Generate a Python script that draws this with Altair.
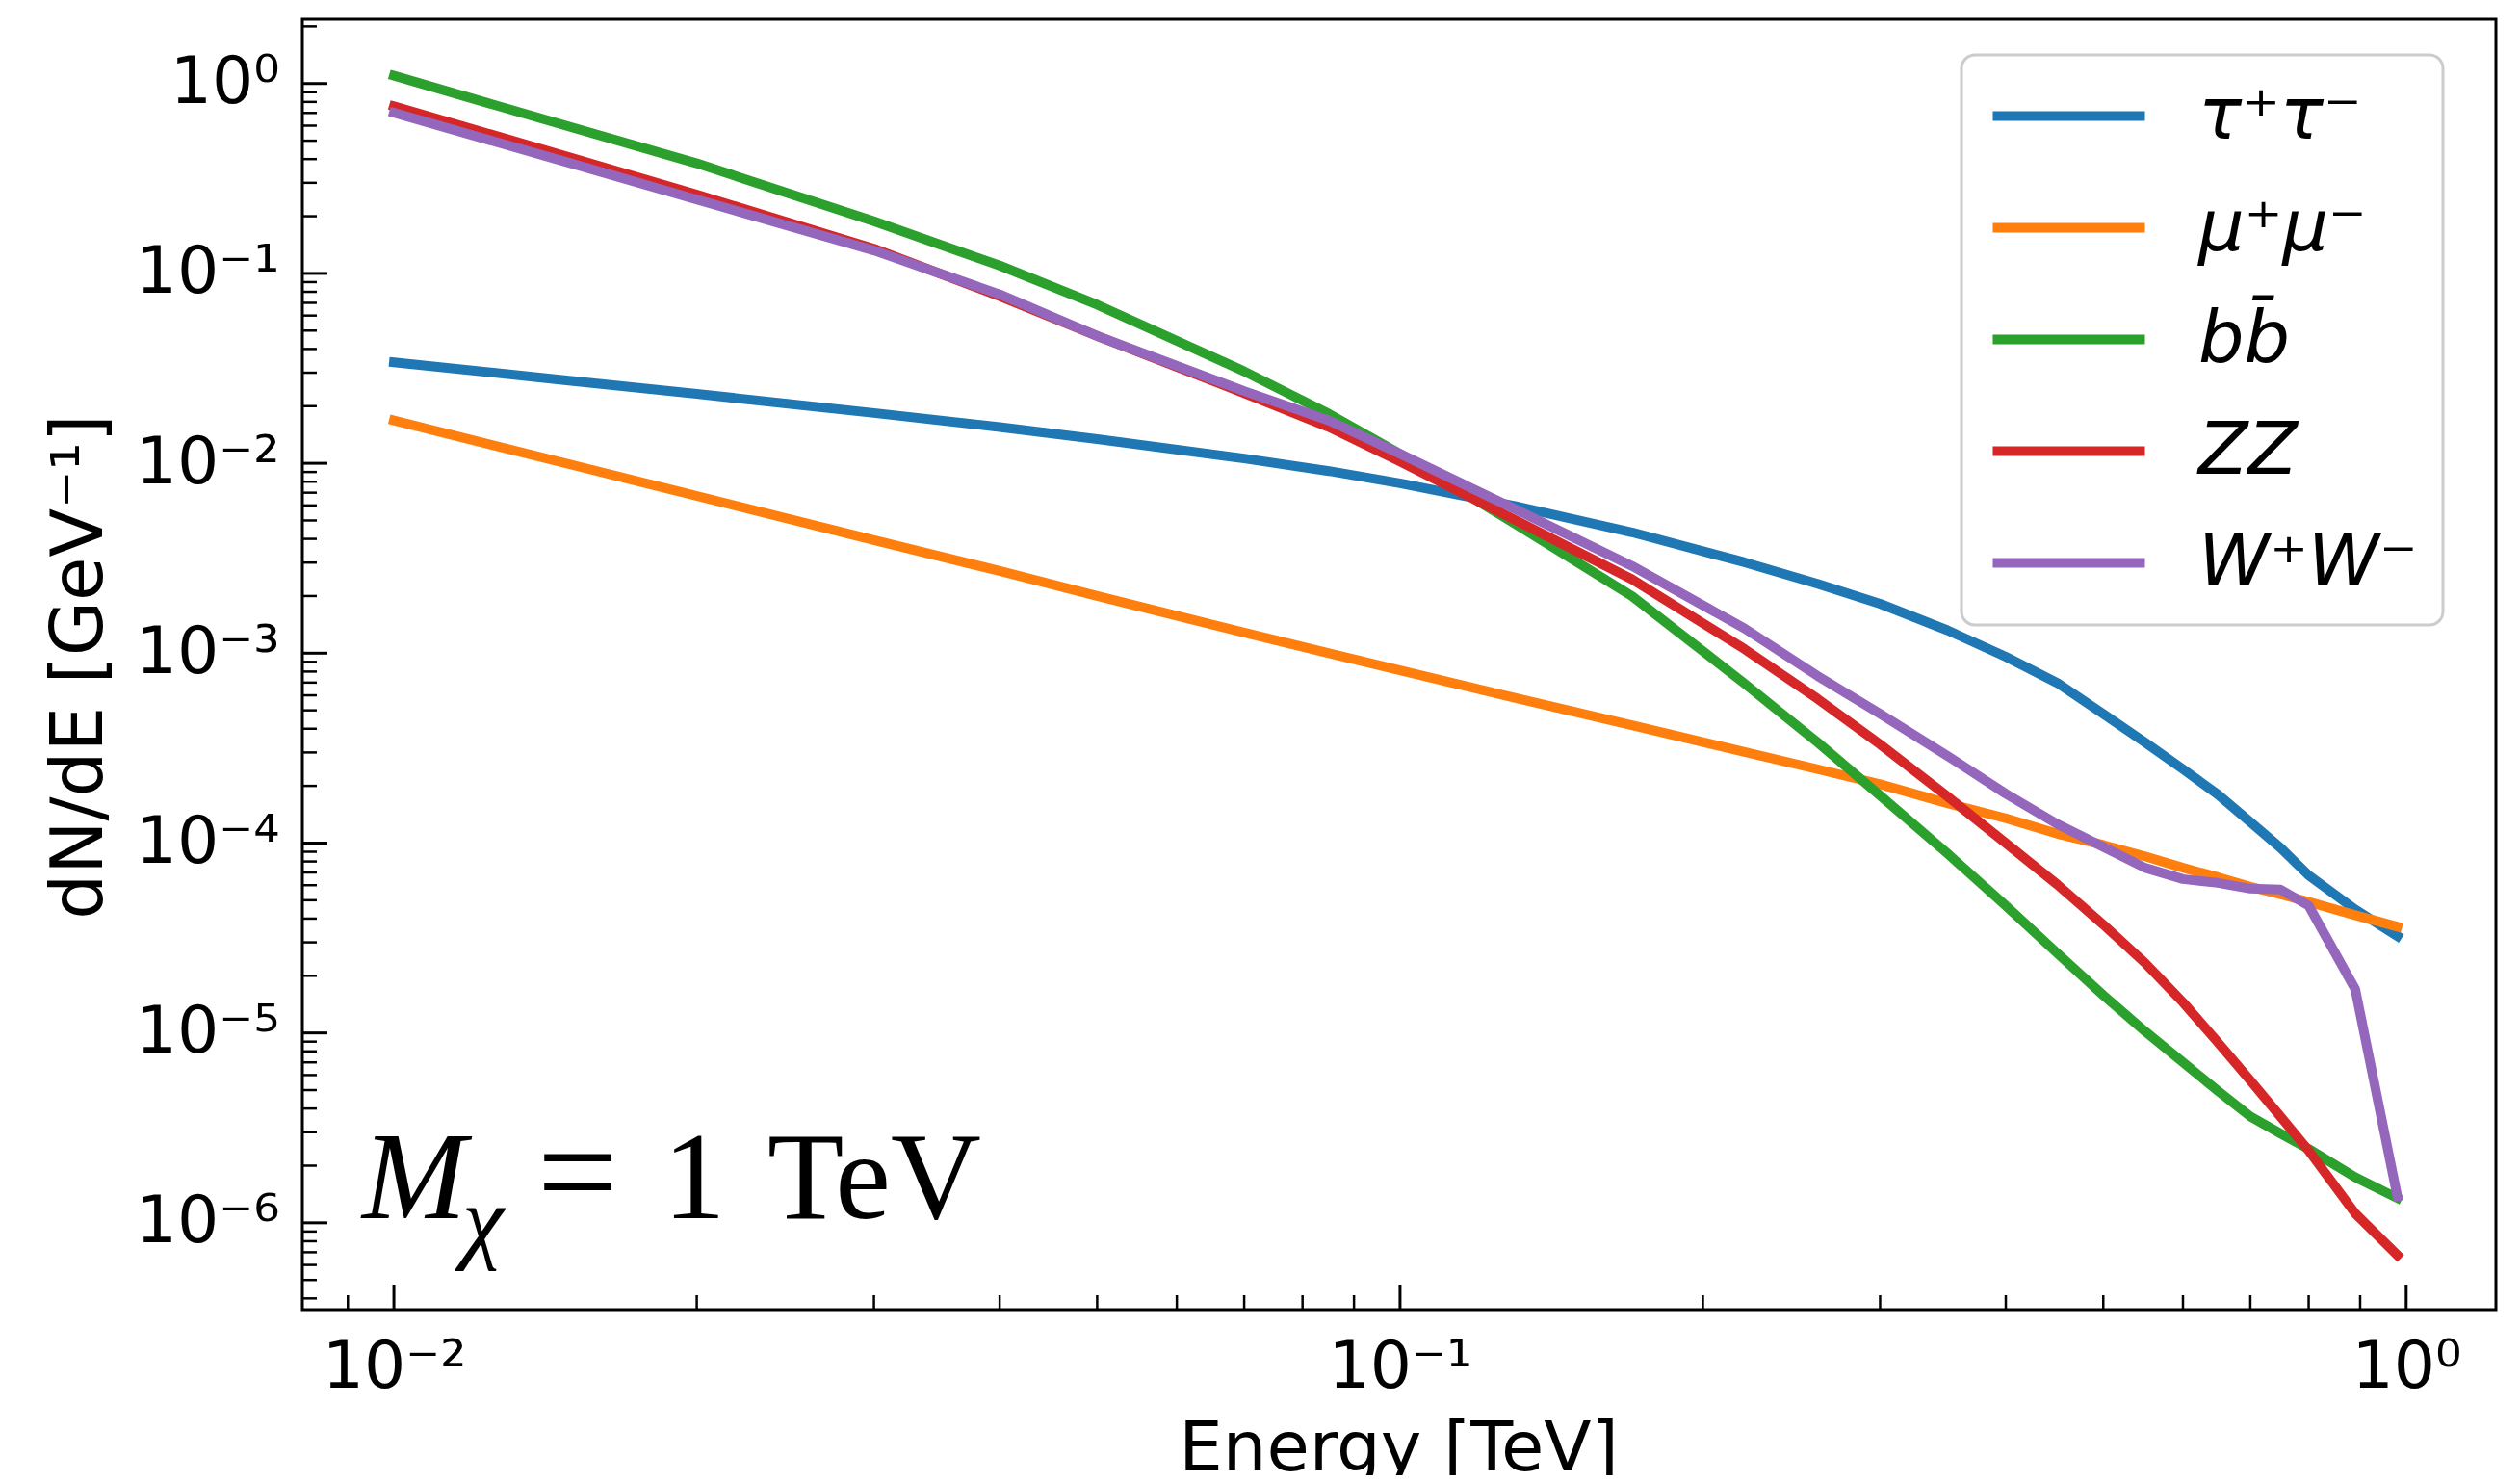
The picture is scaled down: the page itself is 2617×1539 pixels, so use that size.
import altair as alt
import pandas as pd

# ---------------- data ----------------
SERIES = ["τ⁺τ⁻", "μ⁺μ⁻", "bb̄", "ZZ", "W⁺W⁻"]
COLORS = ["#1f77b4", "#ff7f0e", "#2ca02c", "#d62728", "#9467bd"]

ENERGY = [0.01, 0.015, 0.02, 0.03, 0.04, 0.05, 0.07, 0.085, 0.1, 0.13, 0.17,
          0.22, 0.26, 0.3, 0.35, 0.4, 0.45, 0.5, 0.55, 0.6, 0.65, 0.7, 0.75,
          0.8, 0.89, 0.98]

TAU = [3.40e-2, 2.72e-2, 2.32e-2, 1.84e-2, 1.55e-2, 1.34e-2, 1.06e-2, 9.10e-3,
       7.85e-3, 5.96e-3, 4.33e-3, 3.01e-3, 2.32e-3, 1.82e-3, 1.32e-3, 9.57e-4,
       6.97e-4, 4.79e-4, 3.39e-4, 2.45e-4, 1.80e-4, 1.29e-4, 9.44e-5, 6.76e-5,
       4.47e-5, 3.24e-5]
MU = [1.68e-2, 9.84e-3, 6.73e-3, 3.94e-3, 2.71e-3, 2.00e-3, 1.285e-3, 1.00e-3,
      8.13e-4, 5.82e-4, 4.17e-4, 3.02e-4, 2.45e-4, 2.04e-4, 1.62e-4, 1.35e-4,
      1.12e-4, 9.77e-5, 8.51e-5, 7.41e-5, 6.61e-5, 5.89e-5, 5.37e-5, 4.90e-5,
      4.17e-5, 3.63e-5]
BB = [1.10, 0.589, 0.380, 0.188, 0.110, 0.0684, 0.0305, 0.0182, 0.01122,
      4.82e-3, 2.00e-3, 6.92e-4, 3.39e-4, 1.78e-4, 8.81e-5, 4.68e-5, 2.63e-5,
      1.58e-5, 1.02e-5, 7.00e-6, 4.95e-6, 3.63e-6, 2.95e-6, 2.45e-6, 1.74e-6,
      1.35e-6]
ZZ = [0.759, 0.407, 0.260, 0.135, 0.0759, 0.0468, 0.0234, 0.0155, 0.01023,
      5.04e-3, 2.45e-3, 1.05e-3, 5.75e-4, 3.31e-4, 1.76e-4, 1.00e-4, 6.05e-5,
      3.72e-5, 2.34e-5, 1.45e-5, 8.91e-6, 5.62e-6, 3.63e-6, 2.40e-6, 1.12e-6,
      6.76e-7]
WW = [0.701, 0.380, 0.245, 0.132, 0.0776, 0.0468, 0.0240, 0.0168, 0.01122,
      5.75e-3, 2.88e-3, 1.35e-3, 7.59e-4, 4.79e-4, 2.88e-4, 1.82e-4, 1.26e-4,
      9.55e-5, 7.41e-5, 6.46e-5, 6.17e-5, 5.75e-5, 5.69e-5, 4.68e-5, 1.70e-5,
      1.38e-6]

X_MAJOR = [0.01, 0.1, 1.0]
Y_MAJOR = [1e-6, 1e-5, 1e-4, 1e-3, 1e-2, 1e-1, 1.0]
X_MINOR = [0.009, 0.02, 0.03, 0.04, 0.05, 0.06, 0.07, 0.08, 0.09,
           0.2, 0.3, 0.4, 0.5, 0.6, 0.7, 0.8, 0.9]
Y_MINOR = [k * 10.0 ** d for d in range(-7, 1) for k in range(2, 10)
           if 3.49e-7 <= k * 10.0 ** d <= 2.17]

X_DOMAIN = [0.00811, 1.228]
Y_DOMAIN = [3.49e-7, 2.18]

VALUES = [TAU, MU, BB, ZZ, WW]
rows = []
for name, vals in zip(SERIES, VALUES):
    for e, v in zip(ENERGY, vals):
        rows.append({"series": name, "energy": e, "dnde": v})
df = pd.DataFrame(rows)

# ---------------- layout ----------------
W, H = 2278, 1340
FONT = "DejaVu Sans"
SERIF = "Liberation Serif"
LW = 10

EXP = "round(log(datum.value)/LN10)"
SUP = ("'10' + (" + EXP + " < 0 ? '⁻' : '') + substring('⁰¹²³⁴⁵⁶⁷⁸⁹', abs(" + EXP +
       "), abs(" + EXP + ") + 1)")

xscale = alt.Scale(type="log", domain=X_DOMAIN, nice=False)
yscale = alt.Scale(type="log", domain=Y_DOMAIN, nice=False)

x_axis = alt.Axis(values=X_MAJOR, labelExpr=SUP, title="Energy [TeV]",
                  ticks=False, domain=False, grid=False,
                  labelFont=FONT, labelFontSize=68, labelColor="black",
                  labelPadding=26, labelBaseline="top", labelFlush=False,
                  labelOverlap=False,
                  titleFont=FONT, titleFontSize=72, titleFontWeight="normal",
                  titleColor="black", titleX=1138, titleY=166,
                  titleAlign="center", titleBaseline="alphabetic")
y_axis = alt.Axis(values=Y_MAJOR, labelExpr=SUP, title="dN/dE [GeV⁻¹]",
                  ticks=False, domain=False, grid=False,
                  labelFont=FONT, labelFontSize=68, labelColor="black",
                  labelPadding=24, labelOverlap=False,
                  titleFont=FONT, titleFontSize=74, titleFontWeight="normal",
                  titleColor="black", titleX=-209, titleY=672, titleAngle=270,
                  titleAlign="center", titleBaseline="alphabetic")

lines = alt.Chart(df).mark_line(strokeWidth=LW, strokeJoin="round",
                                strokeCap="square").encode(
    x=alt.X("energy:Q", scale=xscale, axis=x_axis, title="Energy [TeV]"),
    y=alt.Y("dnde:Q", scale=yscale, axis=y_axis, title="dN/dE [GeV⁻¹]"),
    color=alt.Color("series:N",
                    scale=alt.Scale(domain=SERIES, range=COLORS),
                    legend=alt.Legend(title=None, orient="none",
                                      legendX=1723, legendY=37,
                                      symbolType="M-3,0H3", symbolSize=2774,
                                      symbolStrokeWidth=LW, symbolOffset=48,
                                      labelOffset=97, labelFont=FONT,
                                      labelFontSize=75, labelFontStyle="italic",
                                      labelColor="black", labelLimit=1000,
                                      rowPadding=40, padding=26,
                                      cornerRadius=14, strokeColor="#cccccc",
                                      fillColor="white")),
)

# inward ticks (share the same scales and axis definitions as the curves)
def ytick(vals, length, sw):
    return alt.Chart(pd.DataFrame({"v": vals})).mark_rule(color="black", strokeWidth=sw).encode(
        y=alt.Y("v:Q", scale=yscale, axis=y_axis, title="dN/dE [GeV⁻¹]"),
        x=alt.value(0), x2=alt.value(length))

def xtick(vals, length, sw):
    return alt.Chart(pd.DataFrame({"v": vals})).mark_rule(color="black", strokeWidth=sw).encode(
        x=alt.X("v:Q", scale=xscale, axis=x_axis, title="Energy [TeV]"),
        y=alt.value(H - length), y2=alt.value(H))

ymaj = ytick(Y_MAJOR, 26, 3)
ymin = ytick(Y_MINOR, 15, 2.5)
xmaj = xtick(X_MAJOR, 26, 3)
xmin = xtick(X_MINOR, 15, 2.5)

# annotation  M_chi = 1 TeV
one = pd.DataFrame({"k": [0]})
def label(txt, x, y, size, style="normal", align="left"):
    return alt.Chart(one).mark_text(font=SERIF, fontSize=size, fontStyle=style,
                                    align=align, baseline="alphabetic",
                                    color="black").encode(
        x=alt.value(x), y=alt.value(y), text=alt.value(txt))

ann = [
    label("M", 62, 1245, 130, "italic"),
    label("χ", 166, 1279, 98, "italic"),
    label("=", 286, 1247, 150, align="center"),
    label("1", 407, 1245, 130, align="center"),
    label("TeV", 483, 1245, 130),
]

chart = alt.layer(lines, ymin, ymaj, xmin, xmaj, *ann).properties(
    width=W, height=H,
    autosize=alt.AutoSizeParams(type="none"),
    padding={"left": 314, "top": 20, "right": 20, "bottom": 172},
).configure_view(stroke="black", strokeWidth=3).configure_legend(strokeWidth=3)

chart.save("out.html", embed_options={"renderer": "svg", "actions": False})
